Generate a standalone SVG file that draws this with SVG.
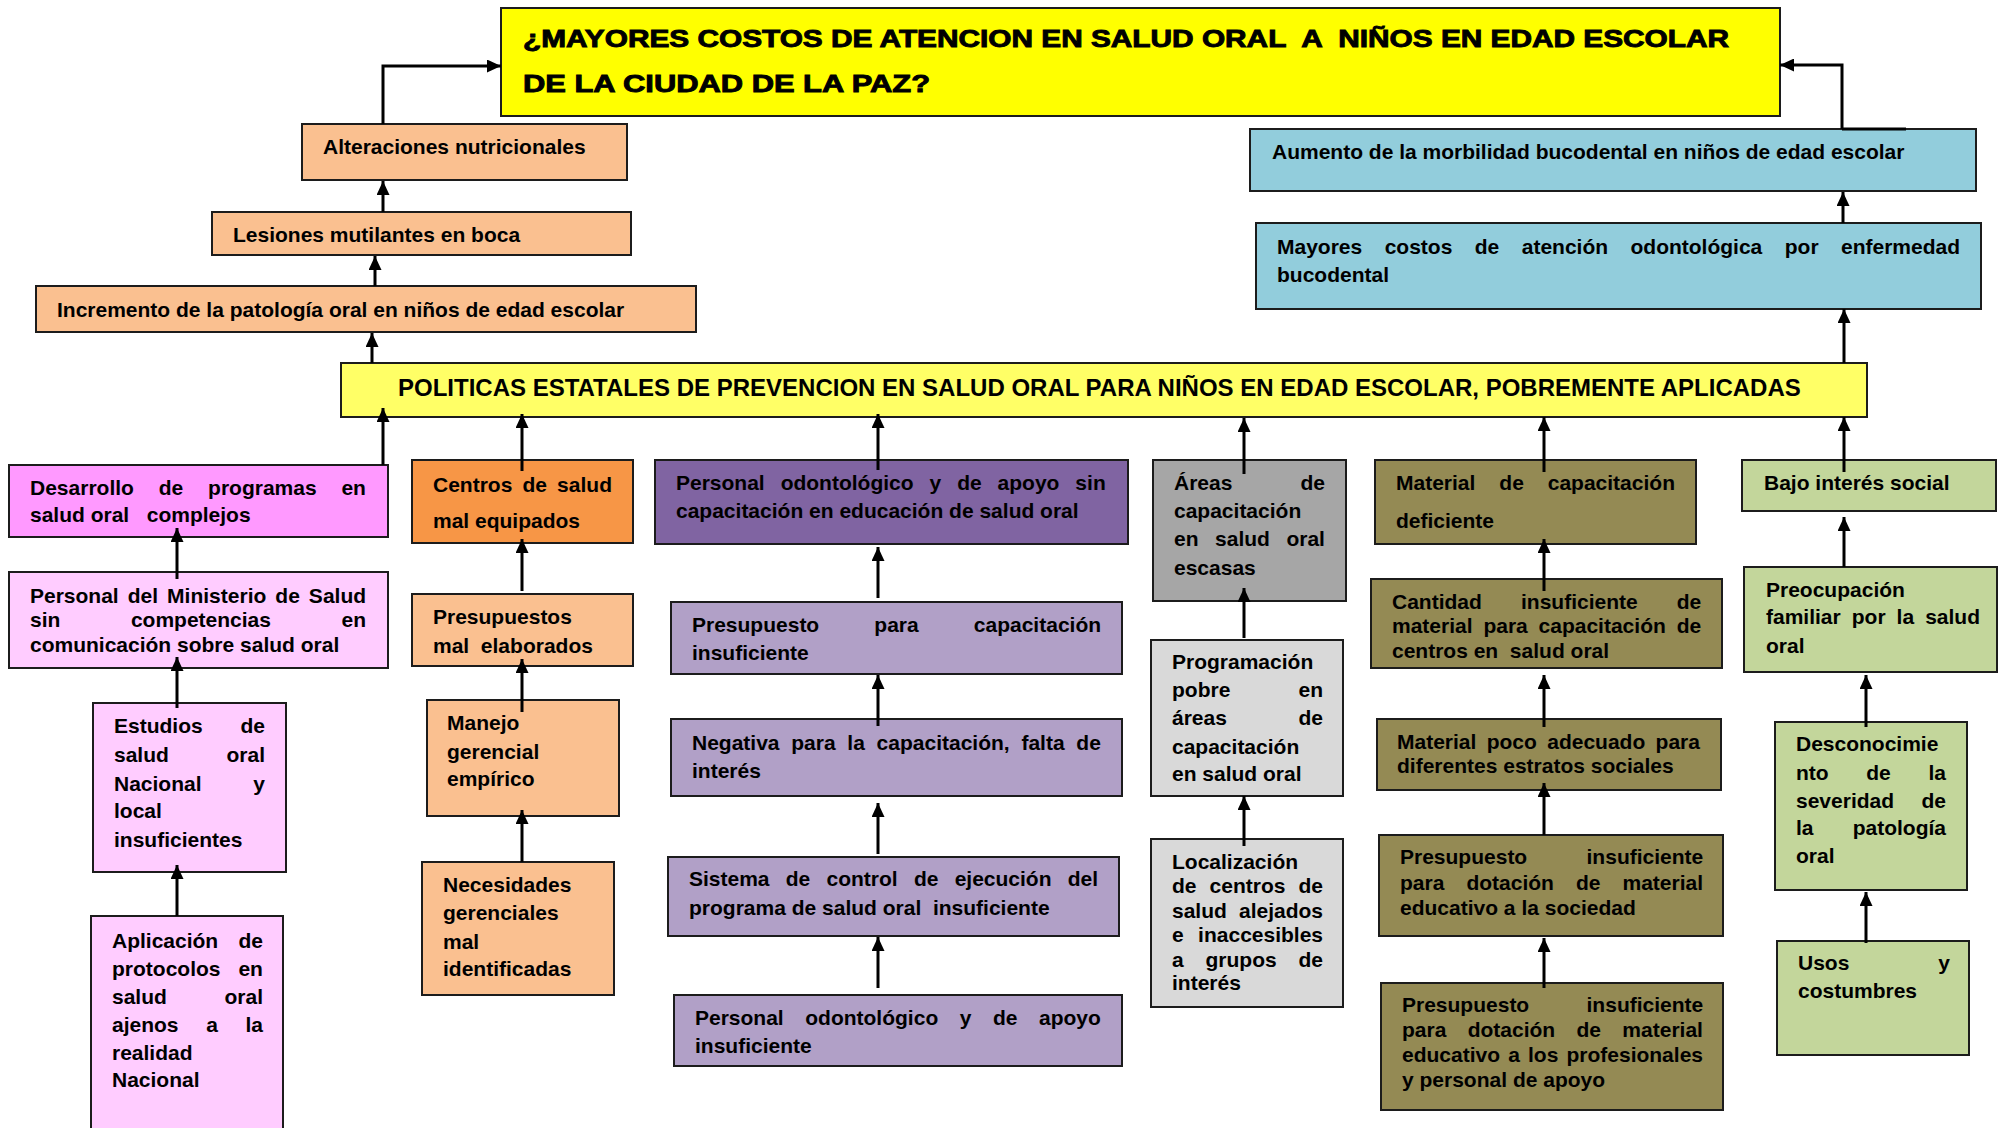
<svg xmlns="http://www.w3.org/2000/svg" width="1998" height="1128" viewBox="0 0 1998 1128">
<style>
.b{stroke:#1c1c1c;stroke-width:2}
.t{font-family:"Liberation Sans",Arial,sans-serif;font-weight:bold;font-size:21px;fill:#000;white-space:pre}
.ti{font-family:"Liberation Sans",Arial,sans-serif;font-weight:bold;font-size:24px;fill:#000;stroke:#000;stroke-width:0.9;white-space:pre}
.tp{font-family:"Liberation Sans",Arial,sans-serif;font-weight:bold;font-size:24px;fill:#000;white-space:pre}
.c{fill:none;stroke:#000;stroke-width:3;marker-end:url(#ah)}
.salmon{fill:#FAC090}.blue{fill:#92CDDC}.pink{fill:#FF99FF}.lpink{fill:#FFCCFF}
.orange{fill:#F79646}.purple{fill:#8064A2}.lpurple{fill:#B1A0C7}
.gray{fill:#A6A6A6}.lgray{fill:#D9D9D9}.olive{fill:#948A54}.green{fill:#C3D69B}
</style>
<defs>
<marker id="ah" viewBox="0 0 14 13" refX="14" refY="6.5" markerWidth="14" markerHeight="13" markerUnits="userSpaceOnUse" orient="auto">
<path d="M0,0 L14,6.5 L0,13 z" fill="#000"/>
</marker>
</defs>
<rect width="1998" height="1128" fill="#fff"/>

<g id="title">
<rect x="501" y="8" width="1279" height="108" fill="#FFFF00" class="b"/>
<text class="ti" x="523" y="47" textLength="1206" lengthAdjust="spacingAndGlyphs">¿MAYORES COSTOS DE ATENCION EN SALUD ORAL  A  NIÑOS EN EDAD ESCOLAR</text>
<text class="ti" x="523" y="92" textLength="407" lengthAdjust="spacingAndGlyphs">DE LA CIUDAD DE LA PAZ?</text>
</g>

<g id="alteraciones">
<rect x="302" y="124" width="325" height="56" class="b salmon"/>
<text class="t" x="323" y="154">Alteraciones nutricionales</text>
</g>
<g id="lesiones">
<rect x="212" y="212" width="419" height="43" class="b salmon"/>
<text class="t" x="233" y="242">Lesiones mutilantes en boca</text>
</g>
<g id="incremento">
<rect x="36" y="286" width="660" height="46" class="b salmon"/>
<text class="t" x="57" y="317">Incremento de la patología oral en niños de edad escolar</text>
</g>

<g id="aumento">
<rect x="1250" y="129" width="726" height="62" class="b blue"/>
<text class="t" x="1272" y="159">Aumento de la morbilidad bucodental en niños de edad escolar</text>
</g>
<g id="mayores">
<rect x="1256" y="223" width="725" height="86" class="b blue"/>
<text class="t" x="1277" y="254" style="word-spacing:16.6px">Mayores costos de atención odontológica por enfermedad</text>
<text class="t" x="1277" y="282">bucodental</text>
</g>

<g id="politicas">
<rect x="341" y="363" width="1526" height="54" fill="#FFFF66" class="b"/>
<text class="tp" x="398" y="396">POLITICAS ESTATALES DE PREVENCION EN SALUD ORAL PARA NIÑOS EN EDAD ESCOLAR, POBREMENTE APLICADAS</text>
</g>

<g id="desarrollo">
<rect x="9" y="465" width="379" height="72" class="b pink"/>
<text class="t" x="30" y="495" style="word-spacing:19px">Desarrollo de programas en</text>
<text class="t" x="30" y="522">salud oral   complejos</text>
</g>
<g id="ministerio">
<rect x="9" y="572" width="379" height="96" class="b lpink"/>
<text class="t" x="30" y="603" style="word-spacing:3.2px">Personal del Ministerio de Salud</text>
<text class="t" x="30" y="627" style="word-spacing:64.7px">sin competencias en</text>
<text class="t" x="30" y="652">comunicación sobre salud oral</text>
</g>
<g id="estudios">
<rect x="93" y="703" width="193" height="169" class="b lpink"/>
<text class="t" x="114" y="733" style="word-spacing:32px">Estudios de</text>
<text class="t" x="114" y="762" style="word-spacing:51.8px">salud oral</text>
<text class="t" x="114" y="791" style="word-spacing:46px">Nacional y</text>
<text class="t" x="114" y="818">local</text>
<text class="t" x="114" y="847">insuficientes</text>
</g>
<g id="aplicacion">
<rect x="91" y="916" width="192" height="222" class="b lpink"/>
<text class="t" x="112" y="948" style="word-spacing:14.5px">Aplicación de</text>
<text class="t" x="112" y="976" style="word-spacing:12.1px">protocolos en</text>
<text class="t" x="112" y="1004" style="word-spacing:51.8px">salud oral</text>
<text class="t" x="112" y="1032" style="word-spacing:21.8px">ajenos a la</text>
<text class="t" x="112" y="1060">realidad</text>
<text class="t" x="112" y="1087">Nacional</text>
</g>

<g id="centros">
<rect x="412" y="460" width="221" height="83" class="b orange"/>
<text class="t" x="433" y="492" style="word-spacing:4.3px">Centros de salud</text>
<text class="t" x="433" y="528">mal equipados</text>
</g>
<g id="presupuestos">
<rect x="412" y="594" width="221" height="72" class="b salmon"/>
<text class="t" x="433" y="624">Presupuestos</text>
<text class="t" x="433" y="653">mal  elaborados</text>
</g>
<g id="manejo">
<rect x="427" y="700" width="192" height="116" class="b salmon"/>
<text class="t" x="447" y="730">Manejo</text>
<text class="t" x="447" y="759">gerencial</text>
<text class="t" x="447" y="786">empírico</text>
</g>
<g id="necesidades">
<rect x="422" y="862" width="192" height="133" class="b salmon"/>
<text class="t" x="443" y="892">Necesidades</text>
<text class="t" x="443" y="920">gerenciales</text>
<text class="t" x="443" y="949">mal</text>
<text class="t" x="443" y="976">identificadas</text>
</g>

<g id="personal-sin-capacitacion">
<rect x="655" y="460" width="473" height="84" class="b purple"/>
<text class="t" x="676" y="490" style="word-spacing:10.1px">Personal odontológico y de apoyo sin</text>
<text class="t" x="676" y="518">capacitación en educación de salud oral</text>
</g>
<g id="presupuesto-capacitacion">
<rect x="671" y="602" width="451" height="72" class="b lpurple"/>
<text class="t" x="692" y="632" style="word-spacing:49.3px">Presupuesto para capacitación</text>
<text class="t" x="692" y="660">insuficiente</text>
</g>
<g id="negativa">
<rect x="671" y="719" width="451" height="77" class="b lpurple"/>
<text class="t" x="692" y="750" style="word-spacing:5.9px">Negativa para la capacitación, falta de</text>
<text class="t" x="692" y="778">interés</text>
</g>
<g id="sistema">
<rect x="668" y="857" width="451" height="79" class="b lpurple"/>
<text class="t" x="689" y="886" style="word-spacing:10.4px">Sistema de control de ejecución del</text>
<text class="t" x="689" y="915">programa de salud oral  insuficiente</text>
</g>
<g id="personal-insuficiente">
<rect x="674" y="995" width="448" height="71" class="b lpurple"/>
<text class="t" x="695" y="1025" style="word-spacing:15.7px">Personal odontológico y de apoyo</text>
<text class="t" x="695" y="1053">insuficiente</text>
</g>

<g id="areas">
<rect x="1153" y="460" width="193" height="141" class="b gray"/>
<text class="t" x="1174" y="490" style="word-spacing:62.3px">Áreas de</text>
<text class="t" x="1174" y="518">capacitación</text>
<text class="t" x="1174" y="546" style="word-spacing:10.7px">en salud oral</text>
<text class="t" x="1174" y="575">escasas</text>
</g>
<g id="programacion">
<rect x="1151" y="640" width="192" height="156" class="b lgray"/>
<text class="t" x="1172" y="669">Programación</text>
<text class="t" x="1172" y="697" style="word-spacing:62.3px">pobre en</text>
<text class="t" x="1172" y="725" style="word-spacing:65.8px">áreas de</text>
<text class="t" x="1172" y="754">capacitación</text>
<text class="t" x="1172" y="781">en salud oral</text>
</g>
<g id="localizacion">
<rect x="1151" y="839" width="192" height="168" class="b lgray"/>
<text class="t" x="1172" y="869">Localización</text>
<text class="t" x="1172" y="893" style="word-spacing:7.2px">de centros de</text>
<text class="t" x="1172" y="918" style="word-spacing:6.3px">salud alejados</text>
<text class="t" x="1172" y="942" style="word-spacing:8.6px">e inaccesibles</text>
<text class="t" x="1172" y="967" style="word-spacing:16px">a grupos de</text>
<text class="t" x="1172" y="990">interés</text>
</g>

<g id="material">
<rect x="1375" y="460" width="321" height="84" class="b olive"/>
<text class="t" x="1396" y="490" style="word-spacing:18.1px">Material de capacitación</text>
<text class="t" x="1396" y="528">deficiente</text>
</g>
<g id="cantidad">
<rect x="1371" y="579" width="351" height="89" class="b olive"/>
<text class="t" x="1392" y="609" style="word-spacing:33.3px">Cantidad insuficiente de</text>
<text class="t" x="1392" y="633" style="word-spacing:5px">material para capacitación de</text>
<text class="t" x="1392" y="658">centros en  salud oral</text>
</g>
<g id="material-poco">
<rect x="1377" y="719" width="344" height="71" class="b olive"/>
<text class="t" x="1397" y="749" style="word-spacing:4.5px">Material poco adecuado para</text>
<text class="t" x="1397" y="773">diferentes estratos sociales</text>
</g>
<g id="presupuesto-sociedad">
<rect x="1379" y="835" width="344" height="101" class="b olive"/>
<text class="t" x="1400" y="864" style="word-spacing:53.5px">Presupuesto insuficiente</text>
<text class="t" x="1400" y="890" style="word-spacing:16.2px">para dotación de material</text>
<text class="t" x="1400" y="915">educativo a la sociedad</text>
</g>
<g id="presupuesto-profesionales">
<rect x="1381" y="983" width="342" height="127" class="b olive"/>
<text class="t" x="1402" y="1012" style="word-spacing:51.5px">Presupuesto insuficiente</text>
<text class="t" x="1402" y="1037" style="word-spacing:15.5px">para dotación de material</text>
<text class="t" x="1402" y="1062" style="word-spacing:2.3px">educativo a los profesionales</text>
<text class="t" x="1402" y="1087">y personal de apoyo</text>
</g>

<g id="bajo-interes">
<rect x="1742" y="460" width="254" height="51" class="b green"/>
<text class="t" x="1764" y="490">Bajo interés social</text>
</g>
<g id="preocupacion">
<rect x="1744" y="567" width="253" height="105" class="b green"/>
<text class="t" x="1766" y="597">Preocupación</text>
<text class="t" x="1766" y="624" style="word-spacing:5.2px">familiar por la salud</text>
<text class="t" x="1766" y="653">oral</text>
</g>
<g id="desconocimiento">
<rect x="1775" y="722" width="192" height="168" class="b green"/>
<text class="t" x="1796" y="751">Desconocimie</text>
<text class="t" x="1796" y="780" style="word-spacing:31.8px">nto de la</text>
<text class="t" x="1796" y="808" style="word-spacing:21.6px">severidad de</text>
<text class="t" x="1796" y="835" style="word-spacing:33.3px">la patología</text>
<text class="t" x="1796" y="863">oral</text>
</g>
<g id="usos">
<rect x="1777" y="941" width="192" height="114" class="b green"/>
<text class="t" x="1798" y="970" style="word-spacing:83.1px">Usos y</text>
<text class="t" x="1798" y="998">costumbres</text>
</g>

<g id="connectors">
<path class="c" d="M372,363 V333"/>
<path class="c" d="M375,286 V256"/>
<path class="c" d="M383,212 V181"/>
<path class="c" d="M383,124 V66 H501"/>
<path class="c" d="M1844,363 V309"/>
<path class="c" d="M1843,223 V192"/>
<path class="c" d="M1842,129 V65 H1780"/>
<path d="M1842,129 H1906" stroke="#000" stroke-width="3"/>
<path class="c" d="M383,465 V408"/>
<path class="c" d="M522,471 V414"/>
<path class="c" d="M878,470 V414"/>
<path class="c" d="M1244,474 V418"/>
<path class="c" d="M1544,472 V417"/>
<path class="c" d="M1844,472 V417"/>
<path class="c" d="M177,579 V528"/>
<path class="c" d="M177,708 V657"/>
<path class="c" d="M177,916 V865"/>
<path class="c" d="M522,591 V539"/>
<path class="c" d="M522,712 V659"/>
<path class="c" d="M522,862 V810"/>
<path class="c" d="M878,598 V547"/>
<path class="c" d="M878,726 V675"/>
<path class="c" d="M878,854 V803"/>
<path class="c" d="M878,988 V937"/>
<path class="c" d="M1244,638 V588"/>
<path class="c" d="M1244,846 V796"/>
<path class="c" d="M1544,591 V539"/>
<path class="c" d="M1544,727 V675"/>
<path class="c" d="M1544,835 V783"/>
<path class="c" d="M1544,988 V938"/>
<path class="c" d="M1844,567 V517"/>
<path class="c" d="M1866,727 V675"/>
<path class="c" d="M1866,943 V892"/>
</g>
</svg>
